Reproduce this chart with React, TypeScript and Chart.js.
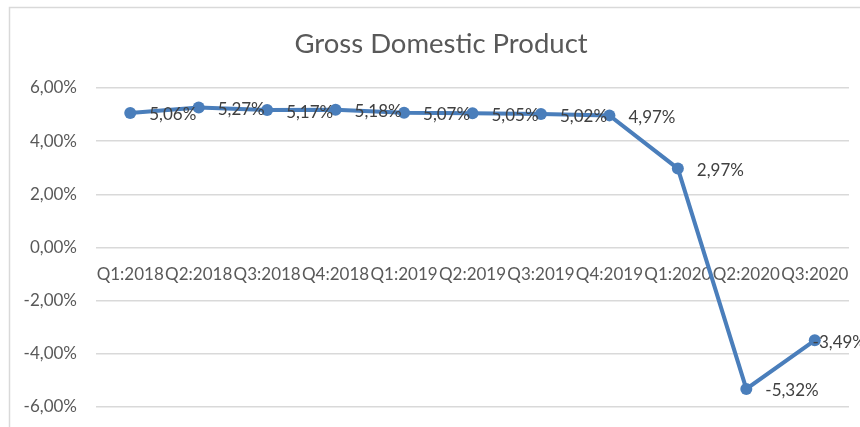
import React, { useEffect, useRef } from "react";
import { Chart, registerables } from "chart.js";

Chart.register(...registerables);

const title = "Gross Domestic Product";
const categories = [
  "Q1:2018", "Q2:2018", "Q3:2018", "Q4:2018",
  "Q1:2019", "Q2:2019", "Q3:2019", "Q4:2019",
  "Q1:2020", "Q2:2020", "Q3:2020",
];
const gdpGrowth = [5.06, 5.27, 5.17, 5.18, 5.07, 5.05, 5.02, 4.97, 2.97, -5.32, -3.49];
const yMin = -6;
const yMax = 6;
const yStep = 2;

const FONT = "Lato, 'Open Sans', sans-serif";
const fmt = (v: number) => v.toFixed(2).replace(".", ",") + "%";

const framePlugin = {
  id: "frame",
  beforeDraw(chart: any) {
    const ctx = chart.ctx;
    ctx.save();
    ctx.fillStyle = "#ffffff";
    ctx.fillRect(0, 0, chart.width, chart.height);
    ctx.strokeStyle = "#d9d9d9";
    ctx.lineWidth = 1.5;
    ctx.strokeRect(9.5, 7.5, 900, 500);
    ctx.fillStyle = "#595959";
    ctx.font = `27.5px ${FONT}`;
    ctx.textAlign = "center";
    ctx.textBaseline = "alphabetic";
    ctx.fillText(title, 441, 53);
    ctx.restore();
  },
};

const labelPlugin = {
  id: "pointLabels",
  afterDatasetsDraw(chart: any) {
    const ctx = chart.ctx;
    const meta = chart.getDatasetMeta(0);
    const data = chart.data.datasets[0].data as number[];
    ctx.save();
    ctx.fillStyle = "#404040";
    ctx.font = `17px ${FONT}`;
    ctx.textAlign = "left";
    ctx.textBaseline = "middle";
    meta.data.forEach((pt: any, i: number) => {
      const txt = fmt(data[i]);
      const w = ctx.measureText(txt).width;
      const x = Math.min(pt.x + 19, 866 - w);
      ctx.fillText(txt, x, pt.y + 2);
    });
    ctx.restore();
  },
};

export default function App() {
  const ref = useRef<HTMLCanvasElement | null>(null);
  useEffect(() => {
    if (!ref.current) return;
    const chart = new Chart(ref.current, {
      type: "line",
      data: {
        labels: categories,
        datasets: [
          {
            data: gdpGrowth,
            borderColor: "#4a7ebb",
            backgroundColor: "#4a7ebb",
            borderWidth: 4,
            pointRadius: 6,
            pointBackgroundColor: "#4a7ebb",
            pointBorderWidth: 0,
            tension: 0,
          },
        ],
      },
      options: {
        animation: false,
        responsive: false,
        devicePixelRatio: 1,
        layout: { padding: { top: 88, bottom: 20, right: 11, left: 0 } },
        plugins: {
          legend: { display: false },
          title: { display: false },
          tooltip: { enabled: false },
        },
        scales: {
          x: {
            type: "category",
            position: { y: 0 } as any,
            offset: true,
            afterFit: (s: any) => {
              s.height = 0;
              s.paddingLeft = 0;
              s.paddingRight = 0;
              s.paddingTop = 0;
              s.paddingBottom = 0;
            },
            grid: { display: false, drawTicks: false },
            border: { display: false },
            ticks: {
              autoSkip: false,
              maxRotation: 0,
              minRotation: 0,
              padding: 17,
              color: "#595959",
              font: { family: FONT, size: 17 },
            },
          },
          y: {
            min: yMin,
            max: yMax,
            afterFit: (s: any) => {
              s.width = 96;
              s.paddingTop = 0;
              s.paddingBottom = 0;
            },
            grid: { color: "#d9d9d9", lineWidth: 1.5, drawTicks: false },
            border: { display: false },
            ticks: {
              stepSize: yStep,
              padding: 19,
              color: "#595959",
              font: { family: FONT, size: 17 },
              callback: (v: any) => fmt(Number(v)),
            },
          },
        },
      },
      plugins: [framePlugin, labelPlugin],
    });
    return () => chart.destroy();
  }, []);
  return (
    <div style={{ position: "absolute", left: 0, top: 0, width: 860, height: 427 }}>
      <canvas ref={ref} width={860} height={427} style={{ display: "block" }} />
    </div>
  );
}
